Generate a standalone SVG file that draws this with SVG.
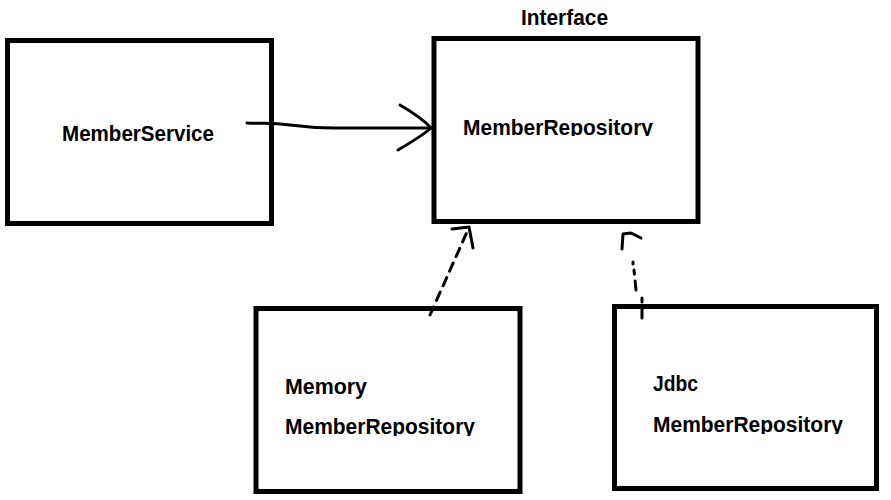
<svg xmlns="http://www.w3.org/2000/svg" width="891" height="500" viewBox="0 0 891 500">
<style>
.box{fill:#fff;stroke:#000;stroke-width:5}
.t{font-family:"Liberation Sans",Arial,sans-serif;font-weight:bold;font-size:22px;fill:#000}
.c{fill:none;stroke:#000;stroke-width:3;stroke-linecap:round;stroke-linejoin:round}
.d{stroke-dasharray:9 7}
</style>
<defs>
<clipPath id="c2"><rect x="440" y="100" width="250" height="36"/></clipPath>
<clipPath id="c3"><rect x="260" y="400" width="250" height="36"/></clipPath>
<clipPath id="c4"><rect x="620" y="400" width="250" height="34"/></clipPath>
</defs>
<rect width="891" height="500" fill="#fff"/>
<g id="memberService">
<rect class="box" x="7.5" y="40.5" width="264" height="183"/>
<text class="t" x="62" y="141" textLength="152" lengthAdjust="spacingAndGlyphs">MemberService</text>
</g>
<g id="memberRepository">
<text class="t" x="521" y="25" textLength="87" lengthAdjust="spacingAndGlyphs">Interface</text>
<rect class="box" x="434" y="38.5" width="264" height="183"/>
<text class="t" x="463" y="135" textLength="190" lengthAdjust="spacingAndGlyphs" clip-path="url(#c2)">MemberRepository</text>
</g>
<g id="memoryMemberRepository">
<rect class="box" x="256" y="308.5" width="264" height="183"/>
<text class="t" x="285" y="394" textLength="82" lengthAdjust="spacingAndGlyphs">Memory</text>
<text class="t" x="285" y="434" textLength="190" lengthAdjust="spacingAndGlyphs" clip-path="url(#c3)">MemberRepository</text>
</g>
<g id="jdbcMemberRepository">
<rect class="box" x="614.5" y="306.5" width="262" height="182"/>
<text class="t" x="653" y="391" textLength="45" lengthAdjust="spacingAndGlyphs">Jdbc</text>
<text class="t" x="653" y="432" textLength="190" lengthAdjust="spacingAndGlyphs" clip-path="url(#c4)">MemberRepository</text>
</g>
<g id="connectors">
<path class="c" d="M247,123 C262,124 270,122 290,125 C305,127 315,128 335,128 L432,128"/>
<path class="c" d="M400,105 C412,112 424,120 431,128 C422,136 410,143 398,150"/>
<path class="c d" d="M430,315 L467,232"/>
<path class="c" d="M452,229 L469,227 L473,248"/>
<path class="c d" d="M642,318 L642,298 M636,290 L634,270 M633,262 L633,264"/>
<path class="c" d="M622,249 L623,234 L631,233 L641,238"/>
</g>
</svg>
